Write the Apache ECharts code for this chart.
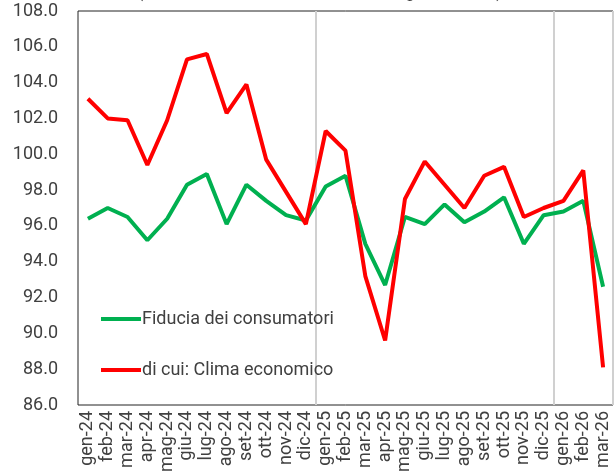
<!DOCTYPE html>
<html>
<head>
<meta charset="utf-8">
<script src="https://cdn.jsdelivr.net/npm/echarts@6/dist/echarts.min.js"></script>
<style>html,body{margin:0;padding:0;background:#fff}#c{width:616px;height:475px}</style>
</head>
<body>
<div id="c"></div>
<script>
const categories = ['gen-24','feb-24','mar-24','apr-24','mag-24','giu-24','lug-24','ago-24','set-24','ott-24','nov-24','dic-24',
  'gen-25','feb-25','mar-25','apr-25','mag-25','giu-25','lug-25','ago-25','set-25','ott-25','nov-25','dic-25',
  'gen-26','feb-26','mar-26'];
const fiducia = [96.4,97.0,96.5,95.2,96.4,98.3,98.9,96.1,98.3,97.4,96.6,96.3,
  98.2,98.8,95.0,92.7,96.5,96.1,97.2,96.2,96.8,97.6,95.0,96.6,
  96.8,97.4,92.6];
const clima = [103.1,102.0,101.9,99.4,101.9,105.3,105.6,102.3,103.9,99.7,97.9,96.1,
  101.3,100.2,93.2,89.6,97.5,99.6,98.3,97.0,98.8,99.3,96.5,97.0,
  97.4,99.1,88.1];
const seriesNames = ['Fiducia dei consumatori','di cui: Clima economico'];
const yTicks = {min:86, max:108, interval:2};
const subtitle = '(indici, base 2021=100, dati destagionalizzati)';

const chart = echarts.init(document.getElementById('c'));
chart.setOption({
  animation:false,
  textStyle:{fontFamily:'Roboto'},
  title:{text:subtitle, left:132, top:-22, textStyle:{fontFamily:'Roboto',fontSize:18,fontWeight:'normal',color:'#404040'}},
  grid:{left:78, top:11, right:3, bottom:70, show:true, borderColor:'#222', borderWidth:1},
  legend:{
    orient:'vertical', left:96, top:305, itemGap:33, itemWidth:40, itemHeight:4, icon:'rect',
    textStyle:{fontFamily:'Roboto', fontSize:18, color:'#404040', padding:[0,0,0,-4]},
    data:seriesNames
  },
  xAxis:{
    type:'category', data:categories, boundaryGap:true,
    axisLine:{show:false}, axisTick:{show:false},
    axisLabel:{rotate:90, interval:0, fontFamily:'Roboto', fontSize:18, color:'#404040', margin:6},
    splitLine:{show:true, interval:(i,v)=> v==='gen-25'||v==='gen-26', lineStyle:{color:'#d0d0d0', width:2}}
  },
  yAxis:{
    type:'value', min:yTicks.min, max:yTicks.max, interval:yTicks.interval,
    axisLine:{show:false}, axisTick:{show:false}, splitLine:{show:false},
    axisLabel:{formatter:v=>v.toFixed(1), fontFamily:'Roboto', fontSize:18, color:'#404040', margin:20}
  },
  series:[
    {name:seriesNames[0], type:'line', data:fiducia, symbol:'none', z:3,
     lineStyle:{color:'#00B050', width:4}, itemStyle:{color:'#00B050'}},
    {name:seriesNames[1], type:'line', data:clima, symbol:'none', z:4,
     lineStyle:{color:'#FF0000', width:4}, itemStyle:{color:'#FF0000'}}
  ]
});
</script>
</body>
</html>
